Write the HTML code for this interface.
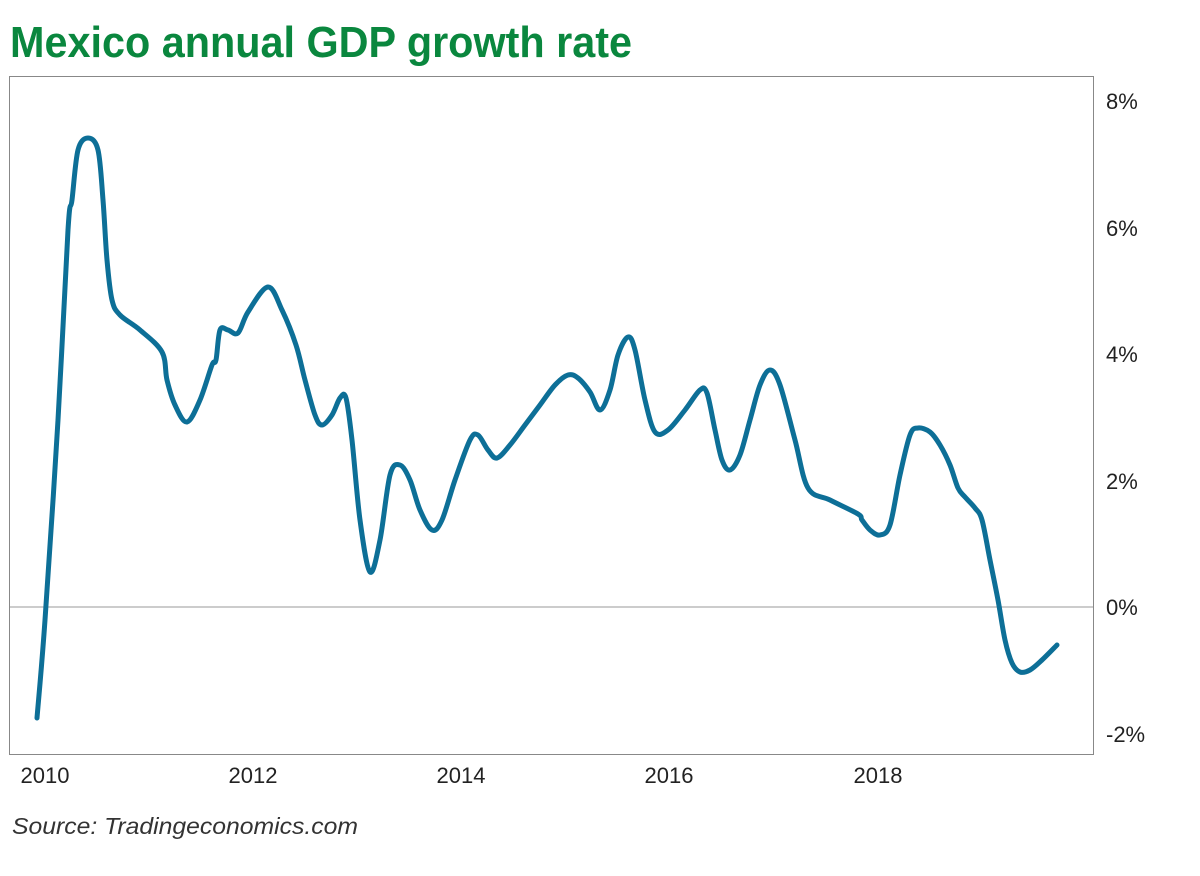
<!DOCTYPE html>
<html><head><style>
body{margin:0;background:#fff;}
svg{display:block;}
</style></head><body>
<svg width="1200" height="876" xmlns="http://www.w3.org/2000/svg">
<rect width="1200" height="876" fill="#fff"/>
<text x="10" y="57" font-family="Liberation Sans Narrow, Liberation Sans, sans-serif" font-weight="bold" font-size="44" fill="#0a873e" textLength="622" lengthAdjust="spacingAndGlyphs">Mexico annual GDP growth rate</text>
<rect x="9.5" y="76.5" width="1084" height="678" fill="none" stroke="#888" stroke-width="1"/>
<line x1="10" y1="607" x2="1093" y2="607" stroke="#999" stroke-width="1"/>
<g font-family="Liberation Sans, sans-serif" font-size="22" fill="#222" font-weight="300">
<text x="1106" y="109">8%</text>
<text x="1106" y="236">6%</text>
<text x="1106" y="362">4%</text>
<text x="1106" y="489">2%</text>
<text x="1106" y="615">0%</text>
<text x="1106" y="742">-2%</text>
<text x="45" y="783" text-anchor="middle">2010</text>
<text x="253" y="783" text-anchor="middle">2012</text>
<text x="461" y="783" text-anchor="middle">2014</text>
<text x="669" y="783" text-anchor="middle">2016</text>
<text x="878" y="783" text-anchor="middle">2018</text>
</g>
<text x="12" y="834" font-family="Liberation Sans, sans-serif" font-style="italic" font-size="23" fill="#333" textLength="346" lengthAdjust="spacingAndGlyphs">Source: Tradingeconomics.com</text>
<polyline id="ln" fill="none" stroke="#0d6f97" stroke-width="5" stroke-linejoin="round" stroke-linecap="round" points="37,718 45,620 58,420 68,230 72,200 78,150 88,138 98,150 103,200 107,260 112,300 120,315 140,330 162,352 167,380 175,405 187,422 200,400 212,365 216,360 220,330 228,330 238,333 248,312 268,287 282,310 296,345 305,380 315,415 322,425 332,415 340,398 346,398 352,440 360,520 370,572 380,540 390,475 400,465 410,480 420,510 432,530 442,520 455,480 470,440 478,435 488,450 497,458 510,445 525,425 540,405 555,385 568,375 578,378 590,392 600,410 610,390 618,355 628,337 635,350 645,400 655,432 668,430 685,410 700,390 707,393 715,430 722,460 730,470 740,455 750,420 760,385 770,370 780,385 795,440 808,488 830,500 858,514 862,520 870,530 880,535 890,525 900,475 910,435 918,428 930,432 940,445 950,465 958,488 965,497 975,508 982,520 990,560 998,600 1005,640 1012,663 1020,672 1030,670 1042,660 1057,645"/>
</svg>
<script>
(function(){
var pl=document.getElementById('ln');
var pts=pl.getAttribute('points').trim().split(/\s+/).map(function(s){return s.split(',').map(Number);});
var d='M'+pts[0][0]+','+pts[0][1];
for(var i=0;i<pts.length-1;i++){
var p0=pts[i-1]||pts[i],p1=pts[i],p2=pts[i+1],p3=pts[i+2]||p2;
var c1x=p1[0]+(p2[0]-p0[0])/6,c1y=p1[1]+(p2[1]-p0[1])/6;
var c2x=p2[0]-(p3[0]-p1[0])/6,c2y=p2[1]-(p3[1]-p1[1])/6;
d+=' C'+c1x+','+c1y+' '+c2x+','+c2y+' '+p2[0]+','+p2[1];
}
var p=document.createElementNS('http://www.w3.org/2000/svg','path');
p.setAttribute('d',d);
['fill','stroke','stroke-width','stroke-linejoin','stroke-linecap'].forEach(function(a){p.setAttribute(a,pl.getAttribute(a));});
pl.parentNode.replaceChild(p,pl);
})();
</script>
</body></html>
